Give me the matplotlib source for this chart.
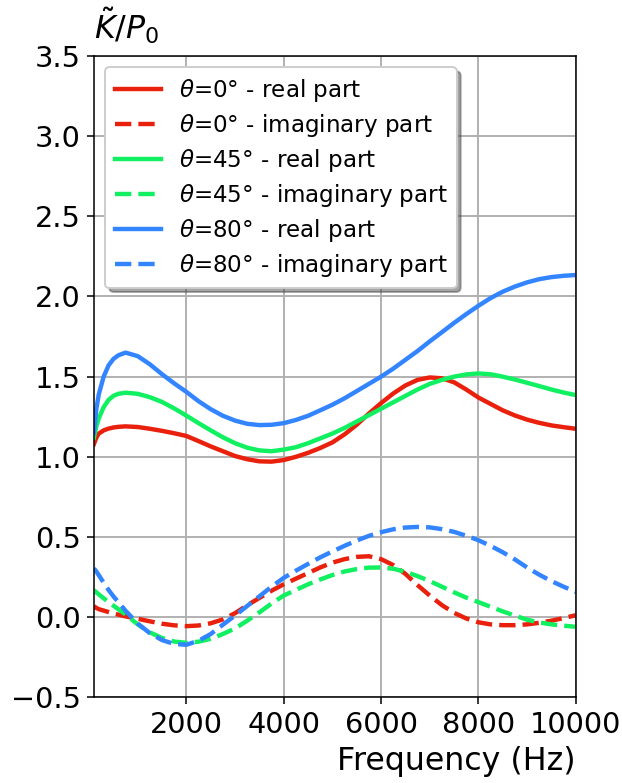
import matplotlib.pyplot as plt

# frequency samples (Hz)
freq = [100, 150, 200, 300, 400, 500, 600, 750, 1000, 1250, 1500, 1750, 2000,
        2250, 2500, 2750, 3000, 3250, 3500, 3750, 4000, 4250, 4500, 4750, 5000,
        5250, 5500, 5750, 6000, 6250, 6500, 6750, 7000, 7250, 7500, 7750, 8000,
        8250, 8500, 8750, 9000, 9250, 9500, 9750, 10000]

# theta = 0 deg
re_0 = [1.08, 1.12, 1.145, 1.165, 1.176, 1.183, 1.187, 1.19, 1.186, 1.175,
        1.162, 1.147, 1.13, 1.098, 1.065, 1.035, 1.005, 0.985, 0.972, 0.97,
        0.98, 1.0, 1.025, 1.055, 1.09, 1.14, 1.2, 1.27, 1.335, 1.395, 1.445,
        1.48, 1.495, 1.49, 1.465, 1.42, 1.37, 1.33, 1.29, 1.258, 1.232, 1.212,
        1.196, 1.185, 1.175]
im_0 = [0.068, 0.058, 0.05, 0.041, 0.032, 0.023, 0.016, 0.005, -0.01, -0.026,
        -0.041, -0.051, -0.056, -0.052, -0.038, -0.014, 0.025, 0.074, 0.12,
        0.165, 0.205, 0.24, 0.275, 0.31, 0.34, 0.362, 0.376, 0.38, 0.362, 0.325,
        0.27, 0.2, 0.135, 0.075, 0.027, -0.008, -0.032, -0.045, -0.05, -0.05,
        -0.045, -0.035, -0.022, -0.006, 0.012]

# theta = 45 deg
re_45 = [1.12, 1.19, 1.24, 1.31, 1.355, 1.38, 1.393, 1.4, 1.393, 1.372, 1.342,
         1.302, 1.257, 1.21, 1.165, 1.122, 1.085, 1.057, 1.04, 1.035, 1.045,
         1.06, 1.085, 1.115, 1.145, 1.18, 1.22, 1.26, 1.3, 1.34, 1.38, 1.42,
         1.455, 1.48, 1.5, 1.514, 1.52, 1.515, 1.5, 1.482, 1.462, 1.441, 1.42,
         1.401, 1.385]
im_45 = [0.168, 0.155, 0.142, 0.118, 0.095, 0.072, 0.05, 0.017, -0.045, -0.095,
         -0.13, -0.152, -0.16, -0.153, -0.135, -0.105, -0.07, -0.022, 0.03,
         0.085, 0.135, 0.17, 0.205, 0.235, 0.263, 0.285, 0.3, 0.309, 0.31, 0.302,
         0.283, 0.256, 0.225, 0.19, 0.155, 0.122, 0.094, 0.065, 0.036, 0.01,
         -0.016, -0.033, -0.045, -0.053, -0.06]

# theta = 80 deg
re_80 = [1.15, 1.3, 1.39, 1.5, 1.57, 1.61, 1.633, 1.65, 1.628, 1.577, 1.515,
         1.458, 1.405, 1.347, 1.297, 1.256, 1.226, 1.206, 1.198, 1.2, 1.21, 1.23,
         1.256, 1.29, 1.325, 1.365, 1.41, 1.455, 1.5, 1.55, 1.605, 1.66, 1.72,
         1.777, 1.835, 1.89, 1.942, 1.99, 2.03, 2.062, 2.088, 2.108, 2.121,
         2.129, 2.134]
im_80 = [0.304, 0.285, 0.262, 0.215, 0.17, 0.13, 0.095, 0.04, -0.04, -0.1,
         -0.143, -0.167, -0.172, -0.147, -0.105, -0.047, 0.01, 0.07, 0.13, 0.19,
         0.245, 0.29, 0.332, 0.373, 0.41, 0.445, 0.478, 0.507, 0.53, 0.548,
         0.559, 0.563, 0.56, 0.549, 0.532, 0.508, 0.48, 0.445, 0.405, 0.36, 0.31,
         0.265, 0.225, 0.19, 0.158]

angles = [0, 45, 80]
colors = ['#e8200c', '#10f060', '#3385ff']
real_parts = [re_0, re_45, re_80]
imag_parts = [im_0, im_45, im_80]

fig = plt.figure(figsize=(622 / 138, 783 / 138), dpi=138)
ax = fig.add_axes([0.151, 0.1094, 0.7746, 0.8191])

for ang, c, re, im in zip(angles, colors, real_parts, imag_parts):
    ax.plot(freq, re, color=c, lw=2.3, label=r'$\theta$=' + f'{ang}° - real part')
    ax.plot(freq, im, color=c, lw=2.3, ls='--',
            label=r'$\theta$=' + f'{ang}° - imaginary part')

ax.set_xlim(100, 10000)
ax.set_ylim(-0.5, 3.5)
ax.set_xticks([2000, 4000, 6000, 8000, 10000])
ax.tick_params(labelsize=15)
ax.grid(True, lw=1)
ax.set_axisbelow(True)
ax.set_xlabel('Frequency (Hz)', fontsize=16.5, loc='right')
ax.text(0, 1.015, r'$\tilde{K}/P_0$', transform=ax.transAxes, fontsize=16.5,
        ha='left', va='bottom')

ax.legend(loc='upper left', fontsize=12, shadow=True, framealpha=1,
          labelspacing=0.35)

fig.savefig('out.png', dpi=138)
